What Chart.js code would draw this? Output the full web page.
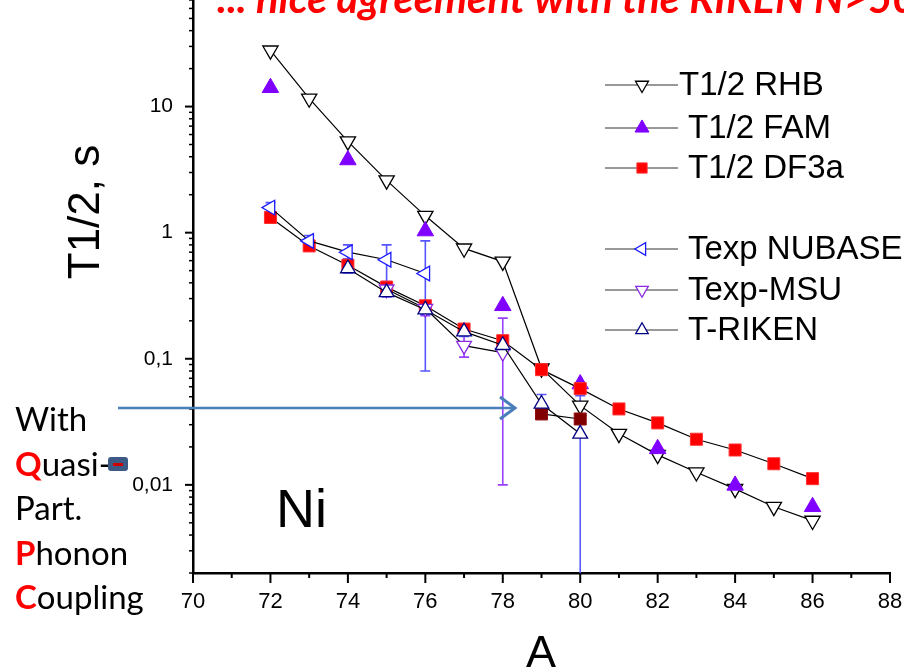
<!DOCTYPE html>
<html>
<head>
<meta charset="utf-8">
<script src="https://cdn.jsdelivr.net/npm/chart.js@4.4.1/dist/chart.umd.min.js"></script>
<style>
  html, body { margin: 0; padding: 0; background: #fff; }
  canvas { display: block; }
</style>
</head>
<body>
<canvas id="halfLifeChart" width="904" height="670"></canvas>
<script>
// Ni isotopes: beta-decay half-lives vs mass number A
const massNumbers = [72, 73, 74, 75, 76, 77, 78, 79, 80, 81, 82, 83, 84, 85, 86];
const rhbValues  = [27.9, 11.6, 5.3, 2.6, 1.36, 0.75, 0.59, 0.084, 0.0425, 0.0254, 0.0173, 0.0126, 0.0093, 0.0067, 0.0052];
const df3aValues = [1.32, 0.785, 0.552, 0.37, 0.263, 0.172, 0.139, 0.082, 0.058, 0.040, 0.031, 0.023, 0.0189, 0.0147, 0.0112];

const famA      = [72, 74, 76, 78, 80, 82, 84, 86];
const famValues = [14.1, 3.77, 1.03, 0.263, 0.063, 0.0193, 0.0099, 0.0067];

// DF3a with quasiparticle-phonon coupling
const qpcA      = [79, 80];
const qpcValues = [0.0365, 0.0333];

const nubaseA      = [72, 73, 74, 75, 76];
const nubaseValues = [1.58, 0.86, 0.70, 0.61, 0.474];
const nubaseLow    = [1.45, 0.78, 0.62, 0.40, 0.08];
const nubaseHigh   = [1.73, 0.95, 0.80, 0.80, 0.86];

const msuA      = [75, 76, 77, 78];
const msuValues = [0.356, 0.25, 0.127, 0.112];
const msuLow    = [0.31, 0.22, 0.103, 0.01];
const msuHigh   = [0.41, 0.28, 0.155, 0.21];

const rikenA      = [74, 75, 76, 77, 78, 79, 80];
const rikenValues = [0.52, 0.336, 0.245, 0.164, 0.128, 0.0438, 0.0254];
const rikenLow    = [0.48, 0.31, 0.225, 0.15, 0.118, 0.037, 0.001];
const rikenHigh   = [0.56, 0.36, 0.265, 0.178, 0.138, 0.052, 0.051];

const xTickValues = [70, 72, 74, 76, 78, 80, 82, 84, 86, 88];
const yTickValues = [0.01, 0.1, 1, 10];
const yTickLabels = ['0,01', '0,1', '1', '10'];

const legendLabels = ['T1/2 RHB', 'T1/2 FAM', 'T1/2 DF3a', 'Texp NUBASE', 'Texp-MSU', 'T-RIKEN'];

const toPoints = (xs, ys) => xs.map((x, i) => ({ x: x, y: ys[i] }));

// маркеры
const styles = {
    rhb:    { pointStyle: 'triangle', rotation: 180, radius: 8.8, fill: '#ffffff', stroke: '#000000', bw: 1.3 },
    fam:    { pointStyle: 'triangle', rotation: 0,   radius: 9.5, fill: '#8000ff', stroke: '#8000ff', bw: 1 },
    df3a:   { pointStyle: 'rect',     rotation: 0,   radius: 8.5, fill: '#ff0000', stroke: '#ff3030', bw: 1 },
    qpc:    { pointStyle: 'rect',     rotation: 0,   radius: 8.5, fill: '#800000', stroke: '#901010', bw: 1 },
    nubase: { pointStyle: 'triangle', rotation: 270, radius: 8.5, fill: '#ffffff', stroke: '#1a1aff', bw: 1.3 },
    msu:    { pointStyle: 'triangle', rotation: 180, radius: 8.5, fill: '#ffffff', stroke: '#8a2be2', bw: 1.3 },
    riken:  { pointStyle: 'triangle', rotation: 0,   radius: 8.5, fill: '#ffffff', stroke: '#000080', bw: 1.3 }
};

function makeDataset(label, points, st, showLine, order) {
    return {
        label: label,
        data: points,
        showLine: showLine,
        borderColor: '#000000',
        borderWidth: 1.2,
        tension: 0,
        pointStyle: st.pointStyle,
        pointRotation: st.rotation,
        pointRadius: st.radius,
        pointHoverRadius: st.radius,
        pointBackgroundColor: st.fill,
        pointBorderColor: st.stroke,
        pointBorderWidth: st.bw,
        order: order
    };
}

const errorSets = [
    { xs: nubaseA, lows: nubaseLow, highs: nubaseHigh, color: '#5555ff' },
    { xs: msuA, lows: msuLow, highs: msuHigh, color: '#9940ff' },
    { xs: rikenA, lows: rikenLow, highs: rikenHigh, color: '#5a5aff' }
];

const decorPlugin = {
    id: 'decor',
    beforeDatasetsDraw(chart) {
        const ctx = chart.ctx;
        const xs = chart.scales.x, ys = chart.scales.y;
        const area = chart.chartArea;
        ctx.save();
        ctx.beginPath();
        ctx.rect(area.left, area.top, area.right - area.left, area.bottom - area.top);
        ctx.clip();
        errorSets.forEach(set => {
            ctx.strokeStyle = set.color;
            ctx.lineWidth = 1.6;
            set.xs.forEach((a, i) => {
                const px = xs.getPixelForValue(a);
                const y1 = ys.getPixelForValue(set.lows[i]);
                const y2 = ys.getPixelForValue(set.highs[i]);
                ctx.beginPath();
                ctx.moveTo(px, y1); ctx.lineTo(px, y2);
                ctx.moveTo(px - 5, y1); ctx.lineTo(px + 5, y1);
                ctx.moveTo(px - 5, y2); ctx.lineTo(px + 5, y2);
                ctx.stroke();
            });
        });
        ctx.restore();
    },
    afterDraw(chart) {
        const ctx = chart.ctx;
        const xs = chart.scales.x, ys = chart.scales.y;
        const area = chart.chartArea;
        ctx.save();

        // оси: тики
        ctx.strokeStyle = '#000';
        ctx.lineWidth = 2;
        for (let a = 70; a <= 88; a++) {
            const px = xs.getPixelForValue(a);
            const len = a % 2 === 0 ? 10 : 5;
            ctx.beginPath();
            ctx.moveTo(px, area.bottom); ctx.lineTo(px, area.bottom + len);
            ctx.stroke();
        }
        [0.001, 0.01, 0.1, 1, 10].forEach(dec => {
            for (let m = 1; m <= 9; m++) {
                const v = dec * m;
                if (v < ys.min || v > ys.max) continue;
                const py = ys.getPixelForValue(v);
                const len = m === 1 ? 8 : 4;
                ctx.lineWidth = m === 1 ? 2 : 1.5;
                ctx.beginPath();
                ctx.moveTo(area.left, py); ctx.lineTo(area.left - len, py);
                ctx.stroke();
            }
        });

        // подписи тиков
        ctx.fillStyle = '#000';
        ctx.font = '22px "Liberation Sans", Arial, sans-serif';
        ctx.textAlign = 'center';
        ctx.textBaseline = 'middle';
        xTickValues.forEach(a => ctx.fillText(String(a), xs.getPixelForValue(a), area.bottom + 29));
        ctx.font = '21px "Liberation Sans", Arial, sans-serif';
        ctx.textAlign = 'right';
        yTickValues.forEach((v, i) => ctx.fillText(yTickLabels[i], area.left - 20, ys.getPixelForValue(v)));

        // заголовки осей
        ctx.font = '45px "Liberation Sans", Arial, sans-serif';
        ctx.textAlign = 'center';
        ctx.textBaseline = 'alphabetic';
        ctx.fillText('A', 541, 667);
        ctx.save();
        ctx.translate(99, 212);
        ctx.rotate(-Math.PI / 2);
        ctx.font = '44px "Liberation Sans", Arial, sans-serif';
        ctx.fillText('T1/2, s', 0, 0);
        ctx.restore();

        // Ni
        ctx.textAlign = 'left';
        ctx.font = '54px "Liberation Sans", Arial, sans-serif';
        ctx.fillText('Ni', 276, 527);

        // легенда
        const rows = [
            { st: styles.rhb, y: 85, tx: 679 },
            { st: styles.fam, y: 128, tx: 688 },
            { st: styles.df3a, y: 168, tx: 688 },
            { st: styles.nubase, y: 249, tx: 688 },
            { st: styles.msu, y: 290, tx: 688 },
            { st: styles.riken, y: 330, tx: 688 }
        ];
        ctx.font = '33px "Liberation Sans", Arial, sans-serif';
        ctx.textBaseline = 'middle';
        rows.forEach((r, i) => {
            ctx.strokeStyle = '#333';
            ctx.lineWidth = 1;
            ctx.beginPath();
            ctx.moveTo(605, r.y); ctx.lineTo(678, r.y);
            ctx.stroke();
            ctx.fillStyle = r.st.fill;
            ctx.strokeStyle = r.st.stroke;
            ctx.lineWidth = r.st.bw;
            Chart.helpers.drawPoint(ctx, {
                pointStyle: r.st.pointStyle, rotation: r.st.rotation,
                radius: r.st.radius * 0.85, borderWidth: r.st.bw
            }, 642, r.y);
            ctx.fillStyle = '#000';
            ctx.fillText(legendLabels[i], r.tx, r.y + 1);
        });

        // подпись сверху (обрезана)
        const head = '... nice agreement with the RIKEN N>5';
        ctx.font = 'bold italic 30px Lato, "Open Sans", sans-serif';
        const fitSize = 30 * 676 / ctx.measureText(head).width;
        ctx.font = 'bold italic ' + fitSize.toFixed(1) + 'px Lato, "Open Sans", sans-serif';
        ctx.fillStyle = '#ff0000';
        ctx.textBaseline = 'alphabetic';
        ctx.fillText(head + '0', 217, 13);

        // текст слева
        const lines = [['', 'With'], ['Q', 'uasi-'], ['', 'Part.'], ['P', 'honon'], ['C', 'oupling']];
        lines.forEach((ln, i) => {
            const by = 431 + i * 44.5;
            let x = 15;
            if (ln[0]) {
                ctx.font = 'bold 33px Lato, sans-serif';
                ctx.fillStyle = '#ff0000';
                ctx.fillText(ln[0], x, by);
                x += ctx.measureText(ln[0]).width;
            }
            ctx.font = '33px Lato, sans-serif';
            ctx.fillStyle = '#000';
            ctx.fillText(ln[1], x, by);
        });
        // маленькая иконка после Quasi-
        ctx.fillStyle = '#3d5a86';
        ctx.beginPath();
        ctx.roundRect(108, 457, 20, 14, 3);
        ctx.fill();
        ctx.fillStyle = '#cc0000';
        ctx.fillRect(113, 463, 10, 3);

        // стрелка
        ctx.strokeStyle = '#4a7ebb';
        ctx.lineWidth = 2.5;
        ctx.beginPath();
        ctx.moveTo(118, 408); ctx.lineTo(514, 408);
        ctx.stroke();
        ctx.lineWidth = 3;
        ctx.beginPath();
        ctx.moveTo(500, 397); ctx.lineTo(515, 408); ctx.lineTo(500, 419);
        ctx.stroke();

        ctx.restore();
    }
};

const chart = new Chart(document.getElementById('halfLifeChart').getContext('2d'), {
    type: 'scatter',
    data: {
        datasets: [
            makeDataset('T1/2 RHB', toPoints(massNumbers, rhbValues), styles.rhb, true, 6),
            makeDataset('T1/2 FAM', toPoints(famA, famValues), styles.fam, false, 5),
            makeDataset('T1/2 DF3a', toPoints(massNumbers, df3aValues), styles.df3a, true, 4),
            makeDataset('QPC', toPoints(qpcA, qpcValues), styles.qpc, true, 3),
            makeDataset('Texp NUBASE', toPoints(nubaseA, nubaseValues), styles.nubase, true, 1),
            makeDataset('Texp-MSU', toPoints(msuA, msuValues), styles.msu, true, 2),
            makeDataset('T-RIKEN', toPoints(rikenA, rikenValues), styles.riken, true, 0)
        ]
    },
    options: {
        responsive: false,
        animation: false,
        layout: { autoPadding: false, padding: { left: 0, right: 14, top: 0, bottom: 0 } },
        plugins: {
            legend: { display: false },
            tooltip: { enabled: false }
        },
        scales: {
            x: {
                type: 'linear',
                min: 70,
                max: 88,
                grid: { display: false, drawTicks: false },
                border: { display: true, color: '#000', width: 2.5 },
                ticks: { display: false },
                afterFit: s => { s.height = 97; }
            },
            y: {
                type: 'logarithmic',
                min: 0.002,
                max: 70,
                grid: { display: false, drawTicks: false },
                border: { display: true, color: '#000', width: 2.5 },
                ticks: { display: false },
                afterFit: s => { s.width = 193; }
            }
        }
    },
    plugins: [decorPlugin]
});
</script>
</body>
</html>
